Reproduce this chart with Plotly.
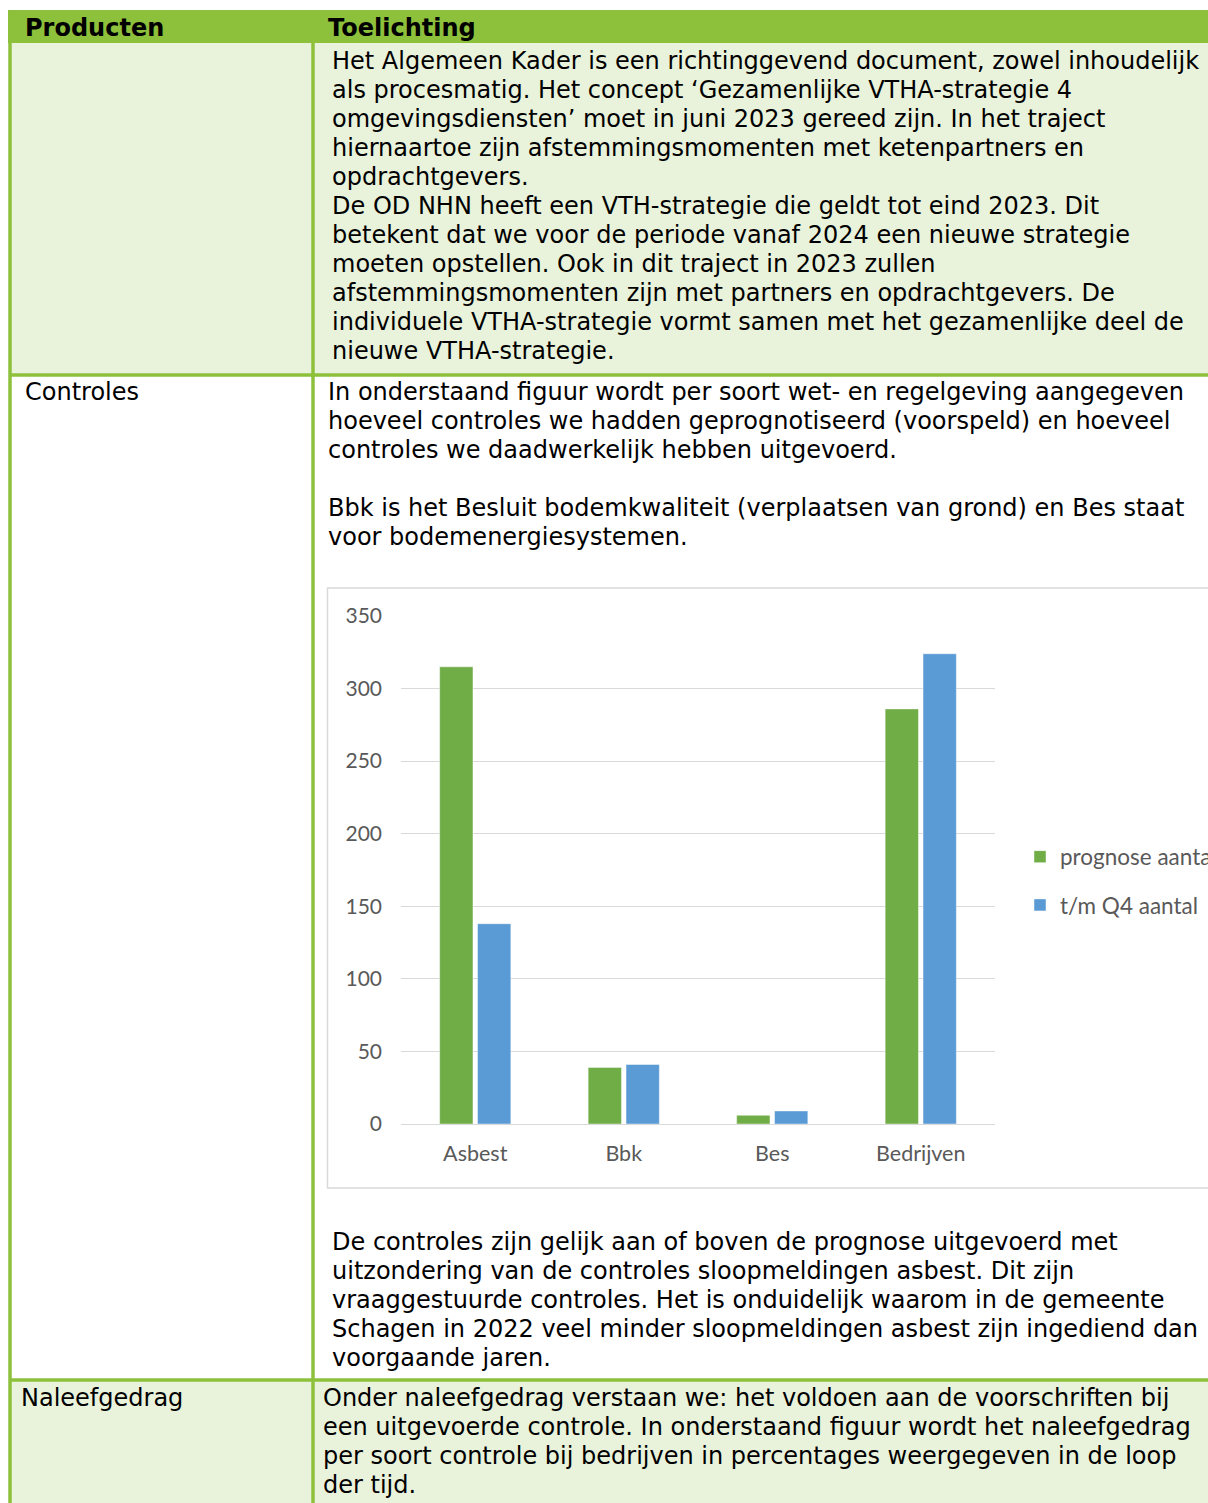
import plotly.graph_objects as go

W, H = 1208, 1503

# ---- chart data ----
categories = ["Asbest", "Bbk", "Bes", "Bedrijven"]
prognose_aantal = [315, 39, 6, 286]
tm_q4_aantal = [138, 41, 9, 324]
series_names = ["prognose aantal", "t/m Q4 aantal"]
y_tick_values = [0, 50, 100, 150, 200, 250, 300, 350]

# ---- table text ----
header_left = "Producten"
header_right = "Toelichting"
row1_lines = [
    "Het Algemeen Kader is een richtinggevend document, zowel inhoudelijk",
    "als procesmatig. Het concept \u2018Gezamenlijke VTHA-strategie 4",
    "omgevingsdiensten\u2019 moet in juni 2023 gereed zijn. In het traject",
    "hiernaartoe zijn afstemmingsmomenten met ketenpartners en",
    "opdrachtgevers.",
    "De OD NHN heeft een VTH-strategie die geldt tot eind 2023. Dit",
    "betekent dat we voor de periode vanaf 2024 een nieuwe strategie",
    "moeten opstellen. Ook in dit traject in 2023 zullen",
    "afstemmingsmomenten zijn met partners en opdrachtgevers. De",
    "individuele VTHA-strategie vormt samen met het gezamenlijke deel de",
    "nieuwe VTHA-strategie.",
]
row2_label = "Controles"
row2_intro_lines = [
    "In onderstaand figuur wordt per soort wet- en regelgeving aangegeven",
    "hoeveel controles we hadden geprognotiseerd (voorspeld) en hoeveel",
    "controles we daadwerkelijk hebben uitgevoerd.",
    "",
    "Bbk is het Besluit bodemkwaliteit (verplaatsen van grond) en Bes staat",
    "voor bodemenergiesystemen.",
]
row2_outro_lines = [
    "De controles zijn gelijk aan of boven de prognose uitgevoerd met",
    "uitzondering van de controles sloopmeldingen asbest. Dit zijn",
    "vraaggestuurde controles. Het is onduidelijk waarom in de gemeente",
    "Schagen in 2022 veel minder sloopmeldingen asbest zijn ingediend dan",
    "voorgaande jaren.",
]
row3_label = "Naleefgedrag"
row3_lines = [
    "Onder naleefgedrag verstaan we: het voldoen aan de voorschriften bij",
    "een uitgevoerde controle. In onderstaand figuur wordt het naleefgedrag",
    "per soort controle bij bedrijven in percentages weergegeven in de loop",
    "der tijd.",
]

# ---- styling ----
HEADER_GREEN = "#8DC03B"
LIGHT_GREEN = "#E9F2DA"
BAR_GREEN = "#70AD47"
BAR_BLUE = "#5B9BD5"
GRID = "#D9D9D9"
CHART_TEXT = "#595959"
DOC_FONT = "DejaVu Sans"
DOC_SIZE = 24
CHART_FONT = "Lato"
LINE_H = 29.0


def px(x):
    return x / W


def py(y):
    return 1 - y / H


fig = go.Figure()

fig.add_trace(go.Bar(
    x=categories, y=prognose_aantal, name=series_names[0],
    marker=dict(color=BAR_GREEN, line=dict(color="rgba(255,255,255,0.45)", width=1)),
    legendgroup="a",
))
fig.add_trace(go.Bar(
    x=categories, y=tm_q4_aantal, name=series_names[1],
    marker=dict(color=BAR_BLUE, line=dict(color="rgba(255,255,255,0.45)", width=1)),
    legendgroup="b",
))

shapes = []


def rect(x0, y0, x1, y1, fill, line_color=None, lw=0, layer="below"):
    shapes.append(dict(
        type="rect", xref="paper", yref="paper",
        x0=px(x0), x1=px(x1), y0=py(y1), y1=py(y0),
        fillcolor=fill, line=dict(color=line_color or fill, width=lw), layer=layer,
    ))


def line(x0, y0, x1, y1, color, w, layer="below"):
    shapes.append(dict(
        type="line", xref="paper", yref="paper",
        x0=px(x0), x1=px(x1), y0=py(y0), y1=py(y1),
        line=dict(color=color, width=w), layer=layer,
    ))


# backgrounds
rect(8, 10, 1215, 43, HEADER_GREEN)
rect(10, 43, 1215, 374, LIGHT_GREEN)
rect(10, 1380, 1215, 1510, LIGHT_GREEN)
# chart frame
rect(327.5, 588, 1220, 1188, "white", GRID, 1.5)
# grid borders
line(10, 10, 10, 1510, HEADER_GREEN, 3.5)
line(313, 43, 313, 1510, HEADER_GREEN, 3.5)
line(10, 375, 1215, 375, HEADER_GREEN, 3.5)
line(10, 1380, 1215, 1380, HEADER_GREEN, 3.5)

annotations = []


def text(x, y, s, bold=False):
    if not s:
        return
    annotations.append(dict(
        xref="paper", yref="paper", x=px(x), y=py(y),
        xanchor="left", yanchor="middle", showarrow=False,
        text=f"<b>{s}</b>" if bold else s,
        font=dict(family=DOC_FONT, size=DOC_SIZE, color="black"),
    ))


text(23, 28, header_left, bold=True)
text(326, 28, header_right, bold=True)
for i, s in enumerate(row1_lines):
    text(330, 61 + i * LINE_H, s)
text(23, 392, row2_label)
for i, s in enumerate(row2_intro_lines):
    text(326, 392 + i * LINE_H, s)
for i, s in enumerate(row2_outro_lines):
    text(330, 1242 + i * LINE_H, s)
text(19, 1398, row3_label)
for i, s in enumerate(row3_lines):
    text(321, 1398 + i * LINE_H, s)

fig.update_layout(
    width=W, height=H, autosize=False,
    margin=dict(l=0, r=0, t=0, b=0, pad=0, autoexpand=False),
    paper_bgcolor="white", plot_bgcolor="white",
    shapes=shapes, annotations=annotations,
    barmode="group", bargap=0.49, bargroupgap=0.12,
    showlegend=True,
    legend=dict(
        xref="container", yref="container",
        x=px(1020), y=py(881), xanchor="left", yanchor="middle",
        font=dict(family=CHART_FONT, size=22.5, color=CHART_TEXT),
        bgcolor="rgba(0,0,0,0)", tracegroupgap=16, traceorder="grouped",
    ),
    xaxis=dict(
        domain=[px(401), px(995)], anchor="y",
        showgrid=False, showline=False, zeroline=False, ticks="",
        tickfont=dict(family=CHART_FONT, size=21.5, color=CHART_TEXT),
        ticklabelstandoff=14, range=[-0.5, 3.5], fixedrange=True,
        automargin=False,
    ),
    yaxis=dict(
        domain=[py(1124), py(616)], anchor="x",
        range=[0, 350], tickvals=y_tick_values,
        showgrid=True, gridcolor=GRID, gridwidth=1.3,
        zeroline=True, zerolinecolor=GRID, zerolinewidth=1.3,
        showline=False, ticks="",
        tickfont=dict(family=CHART_FONT, size=21, color=CHART_TEXT),
        ticklabelstandoff=18, fixedrange=True, automargin=False,
    ),
)

# pin the figure to the top-left corner of the window (no body margin / scrollbars)
PIN_JS = (
    "document.documentElement.style.overflow='hidden';"
    "document.body.style.margin='0';document.body.style.overflow='hidden';"
    "var d=document.getElementById('{plot_id}');"
    "d.style.position='fixed';d.style.left='0px';d.style.top='0px';"
)

fig.write_html("out.html", post_script=PIN_JS, config={"displayModeBar": False})
